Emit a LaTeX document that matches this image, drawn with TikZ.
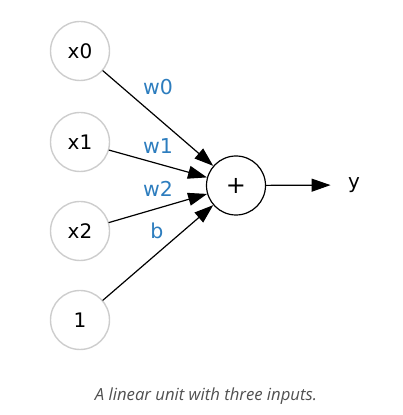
\documentclass[tikz,border=0pt]{standalone}
\usepackage{fontspec}
\setmainfont{DejaVu Sans}
\newfontfamily\capfont{Open Sans}
\usetikzlibrary{arrows.meta}
\definecolor{wblue}{RGB}{45,125,190}
\definecolor{capgray}{RGB}{80,80,80}
\definecolor{ringgray}{RGB}{205,205,205}

\begin{document}
\begin{tikzpicture}[line cap=round,line join=round,>={Triangle[length=19pt,width=13pt]},x=1pt,y=1pt,
  inp/.style={circle,draw=ringgray,line width=1.4pt,minimum size=59pt,inner sep=0pt,font=\fontsize{20}{24}\selectfont},
  sumn/.style={circle,draw=black,line width=1.2pt,minimum size=59pt,inner sep=0pt,font=\fontsize{24}{28}\selectfont},
  wlab/.style={text=wblue,font=\fontsize{20.5}{24}\selectfont}]
\useasboundingbox (0,0) rectangle (403,415);
\node[inp] (x0) at (80,364) {x0};
\node[inp] (x1) at (80,273) {x1};
\node[inp] (x2) at (80,184) {x2};
\node[inp] (one) at (80,95) {1};
\node[sumn] (plus) at (236,229.5) {+};
\node[font=\fontsize{20}{24}\selectfont] (y) at (354,230) {y};
\draw [->,line width=1.2pt] (x0) -- (plus);
\draw [->,line width=1.2pt] (x1) -- (plus);
\draw [->,line width=1.2pt] (x2) -- (plus);
\draw [->,line width=1.2pt] (one) -- (plus);
\draw [->,line width=1.2pt,shorten >=14pt] (plus) -- (y);
\node[wlab] (lw0) at (158,328) {w0};
\node[wlab] (lw1) at (158,269) {w1};
\node[wlab] (lw2) at (158,226) {w2};
\node[wlab] (lb) at (157,184) {b};
\node[text=capgray,font=\capfont\itshape\fontsize{16.7}{20}\selectfont] (cap) at (206,19) {A linear unit with three inputs.};
\end{tikzpicture}
\end{document}
